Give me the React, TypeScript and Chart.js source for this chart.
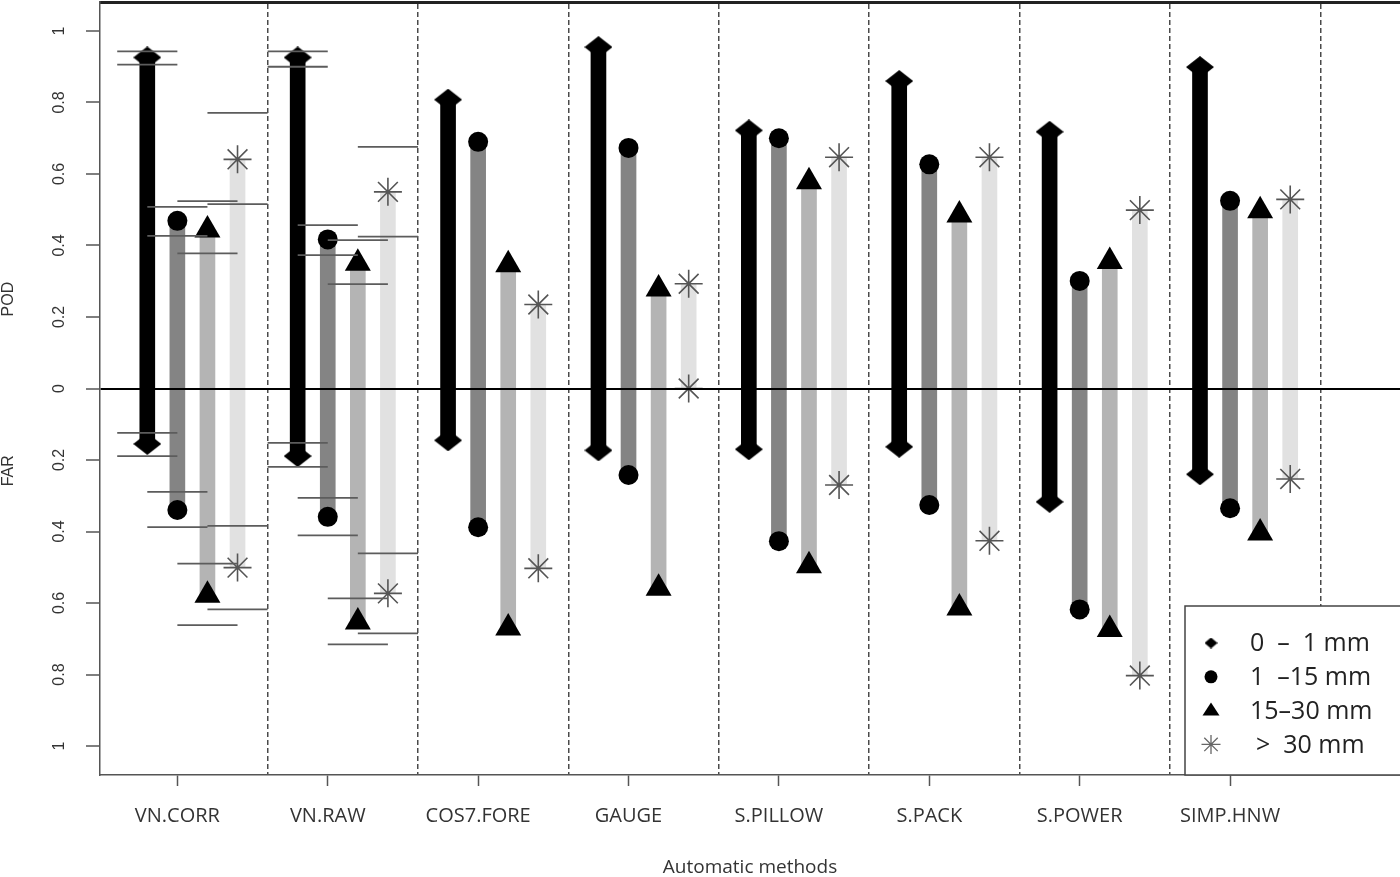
import React, { useEffect, useRef } from "react";
import { Chart, registerables } from "chart.js";
Chart.register(...registerables);

const methods = ["VN.CORR", "VN.RAW", "COS7.FORE", "GAUGE", "S.PILLOW", "S.PACK", "S.POWER", "SIMP.HNW"];
const classLabels = ["0  \u2013  1 mm", "1  \u201315 mm", "15\u201330 mm", ">  30 mm"];
const classColors = ["#000000", "#848484", "#b4b4b4", "#e1e1e1"];

// POD (upwards) and FAR (downwards) per precipitation class, one value per method
const pod0to1 = [0.926, 0.926, 0.808, 0.955, 0.722, 0.860, 0.718, 0.899];
const far0to1 = [0.155, 0.189, 0.145, 0.173, 0.170, 0.163, 0.317, 0.240];
const pod1to15 = [0.469, 0.417, 0.690, 0.673, 0.700, 0.627, 0.301, 0.525];
const far1to15 = [0.340, 0.359, 0.388, 0.242, 0.427, 0.326, 0.618, 0.335];
const pod15to30 = [0.443, 0.350, 0.346, 0.278, 0.578, 0.485, 0.355, 0.497];
const far15to30 = [0.578, 0.653, 0.670, 0.559, 0.496, 0.614, 0.674, 0.404];
const podOver30 = [0.641, 0.550, 0.235, 0.293, 0.647, 0.647, 0.499, 0.529];
const farOver30 = [0.501, 0.573, 0.503, 0.000, 0.270, 0.426, 0.803, 0.253];

// confidence intervals (VN.CORR, VN.RAW) per class: [low, high]
const ciPodVnCorr = [[0.906, 0.943], [0.427, 0.508], [0.378, 0.524], [0.516, 0.771]];
const ciFarVnCorr = [[0.124, 0.189], [0.289, 0.388], [0.490, 0.662], [0.384, 0.618]];
const ciPodVnRaw = [[0.900, 0.943], [0.373, 0.457], [0.292, 0.415], [0.425, 0.676]];
const ciFarVnRaw = [[0.152, 0.219], [0.306, 0.411], [0.587, 0.716], [0.461, 0.685]];

const yTickValues = [1, 0.8, 0.6, 0.4, 0.2, 0, -0.2, -0.4, -0.6, -0.8, -1];
const yTickLabels = ["1", "0.8", "0.6", "0.4", "0.2", "0", "0.2", "0.4", "0.6", "0.8", "1"];
const dividers = [5, 10, 15, 20, 25, 30, 35, 40];

const podByClass = [pod0to1, pod1to15, pod15to30, podOver30];
const farByClass = [far0to1, far1to15, far15to30, farOver30];

const xPos = (m: number, c: number) => 5 * m + c + 1;

function makeDiamond(w: number, h: number, color: string) {
  const cv = document.createElement("canvas");
  cv.width = w;
  cv.height = h;
  const c = cv.getContext("2d")!;
  c.fillStyle = color;
  c.beginPath();
  c.moveTo(w / 2, 0);
  c.lineTo(w, h / 2);
  c.lineTo(w / 2, h);
  c.lineTo(0, h / 2);
  c.closePath();
  c.fill();
  return cv;
}

function drawAsterisk(ctx: CanvasRenderingContext2D, x: number, y: number, r: number) {
  ctx.beginPath();
  for (let k = 0; k < 4; k++) {
    const a = (k * Math.PI) / 4;
    ctx.moveTo(x - Math.sin(a) * r, y - Math.cos(a) * r);
    ctx.lineTo(x + Math.sin(a) * r, y + Math.cos(a) * r);
  }
  ctx.stroke();
}

export default function App() {
  const ref = useRef<HTMLCanvasElement>(null);

  useEffect(() => {
    document.body.style.margin = "0";
    const canvas = ref.current!;
    const diamond = makeDiamond(28, 22, "#000");

    const barSets = podByClass.map((pod, c) => ({
      type: "bar" as const,
      label: classLabels[c],
      data: methods.map((_, m) => ({ x: xPos(m, c), y: [-farByClass[c][m], pod[m]] })),
      backgroundColor: classColors[c],
      barThickness: 15,
      grouped: false,
      borderWidth: 0,
      xAxisID: "x",
      yAxisID: "y",
      order: 3,
    }));

    const markerStyles: any[] = [diamond, "circle", "triangle", "star"];
    const markerRadius = [11, 10, 15, 14];
    const markerSets = podByClass.map((pod, c) => ({
      type: "scatter" as const,
      label: classLabels[c] + " markers",
      data: methods.flatMap((_, m) => [
        { x: xPos(m, c), y: pod[m] },
        { x: xPos(m, c), y: -farByClass[c][m] },
      ]),
      pointStyle: markerStyles[c],
      pointRadius: markerRadius[c],
      pointBackgroundColor: "#000",
      pointBorderColor: c === 3 ? "#555" : "#000",
      pointBorderWidth: c === 3 ? 1.6 : 0,
      showLine: false,
      xAxisID: "x",
      yAxisID: "y",
      order: 2,
    }));

    const ciData: any[] = [];
    const addCi = (m: number, podCi: number[][], farCi: number[][]) => {
      podCi.forEach((pair, c) => {
        const cx = xPos(m, c);
        const vals = [pair[0], pair[1], -farCi[c][0], -farCi[c][1]];
        vals.forEach((v) => {
          ciData.push({ x: cx - 1, y: v }, { x: cx + 1, y: v }, { x: cx + 1, y: null });
        });
      });
    };
    addCi(0, ciPodVnCorr, ciFarVnCorr);
    addCi(1, ciPodVnRaw, ciFarVnRaw);

    const ciSet = {
      type: "line" as const,
      label: "CI",
      data: ciData,
      borderColor: "#5c5c5c",
      borderWidth: 1.8,
      pointRadius: 0,
      spanGaps: false,
      tension: 0,
      xAxisID: "x",
      yAxisID: "y",
      order: 1,
    };

    const decor = {
      id: "decor",
      afterDraw(chart: any) {
        const ctx: CanvasRenderingContext2D = chart.ctx;
        const ys = chart.scales.y;
        const area = chart.chartArea;
        ctx.save();
        ctx.fillStyle = "#333";
        ctx.font = '16px "Liberation Sans", Arial, sans-serif';
        ctx.textAlign = "center";
        ctx.textBaseline = "middle";
        yTickValues.forEach((v, k) => {
          const y = ys.getPixelForValue(v);
          ctx.save();
          ctx.translate(60, y);
          ctx.rotate(-Math.PI / 2);
          ctx.fillText(yTickLabels[k], 0, 0);
          ctx.restore();
        });
        const titles: [string, number][] = [["POD", 0.25], ["FAR", -0.23]];
        titles.forEach(([t, v]) => {
          ctx.save();
          ctx.translate(9, ys.getPixelForValue(v));
          ctx.rotate(-Math.PI / 2);
          ctx.fillText(t, 0, 0);
          ctx.restore();
        });

        // legend
        const lx = 1185;
        const ly = 606;
        const lb = area.bottom;
        const lr = area.right + 3;
        ctx.fillStyle = "#fff";
        ctx.fillRect(lx, ly, lr - lx, lb - ly);
        ctx.strokeStyle = "#444";
        ctx.lineWidth = 1.5;
        ctx.strokeRect(lx, ly, lr - lx, lb - ly);
        const mx = 1211;
        ctx.font = '25px "Open Sans", sans-serif';
        ctx.textAlign = "left";
        ctx.textBaseline = "middle";
        classLabels.forEach((lab, k) => {
          const y = ly + 37 + k * 33.8;
          ctx.fillStyle = "#000";
          if (k === 0) {
            ctx.drawImage(makeDiamond(13, 11, "#000"), mx - 6.5, y - 5.5);
          } else if (k === 1) {
            ctx.beginPath();
            ctx.arc(mx, y, 6.5, 0, Math.PI * 2);
            ctx.fill();
          } else if (k === 2) {
            ctx.beginPath();
            ctx.moveTo(mx, y - 8);
            ctx.lineTo(mx + 8.5, y + 5);
            ctx.lineTo(mx - 8.5, y + 5);
            ctx.closePath();
            ctx.fill();
          } else {
            ctx.strokeStyle = "#666";
            ctx.lineWidth = 1.3;
            drawAsterisk(ctx, mx, y, 9.5);
          }
          ctx.fillStyle = "#222";
          ctx.fillText(lab, k === 3 ? 1256 : 1250, y + 1);
        });
        ctx.restore();
      },
    };

    const chart = new Chart(canvas, {
      type: "scatter",
      data: { datasets: [...barSets, ...markerSets, ciSet] as any },
      plugins: [decor],
      options: {
        animation: false,
        responsive: false,
        events: [],
        layout: { padding: 0, autoPadding: false },
        plugins: { legend: { display: false }, tooltip: { enabled: false } },
        scales: {
          x: {
            type: "linear",
            axis: "x",
            position: "bottom",
            min: -0.5725,
            max: 42.65,
            offset: false,
            afterBuildTicks: (s: any) => {
              s.ticks = methods.map((_, m) => ({ value: 5 * m + 2 }));
            },
            afterFit: (s: any) => {
              s.height = 102;
            },
            ticks: {
              autoSkip: false,
              maxRotation: 0,
              minRotation: 0,
              padding: 18,
              color: "#333",
              font: { family: '"Open Sans", sans-serif', size: 20 },
              callback: (_v: any, i: number) => methods[i],
            },
            grid: {
              drawOnChartArea: false,
              drawTicks: true,
              tickLength: 11,
              tickColor: "#555",
              tickWidth: 1.5,
              offset: false,
            },
            border: { display: true, color: "#555", width: 1.5 },
            title: {
              display: true,
              text: "Automatic methods",
              color: "#333",
              font: { family: '"Open Sans", sans-serif', size: 19, lineHeight: 1 },
              padding: { top: 0, bottom: 0 },
            },
          },
          x2: {
            type: "linear",
            axis: "x",
            position: "top",
            min: -0.5725,
            max: 42.65,
            offset: false,
            afterBuildTicks: (s: any) => {
              s.ticks = dividers.map((v) => ({ value: v }));
            },
            afterFit: (s: any) => {
              s.height = 2;
            },
            ticks: { display: false },
            grid: {
              drawOnChartArea: true,
              drawTicks: false,
              color: "#4a4a4a",
              lineWidth: 1.5,
              offset: false,
            },
            border: { display: true, color: "#222", width: 3, dash: [5, 3] },
          },
          y: {
            type: "linear",
            position: "left",
            min: -1.0811,
            max: 1.0811,
            afterBuildTicks: (s: any) => {
              s.ticks = yTickValues.map((v) => ({ value: v }));
            },
            afterFit: (s: any) => {
              s.width = 100;
            },
            ticks: { display: false, z: 1 },
            grid: {
              z: 1,
              drawOnChartArea: true,
              drawTicks: true,
              tickLength: 14,
              tickColor: "#555",
              tickWidth: 1.5,
              lineWidth: 2,
              color: (c: any) => (c.tick && c.tick.value === 0 ? "#000" : "rgba(0,0,0,0)"),
            },
            border: { display: true, color: "#555", width: 1.5, z: 1 },
          },
        },
      } as any,
    });
    return () => chart.destroy();
  }, []);

  return (
    <div style={{ width: 1400, height: 877 }}>
      <canvas ref={ref} width={1400} height={877} style={{ display: "block" }} />
    </div>
  );
}
